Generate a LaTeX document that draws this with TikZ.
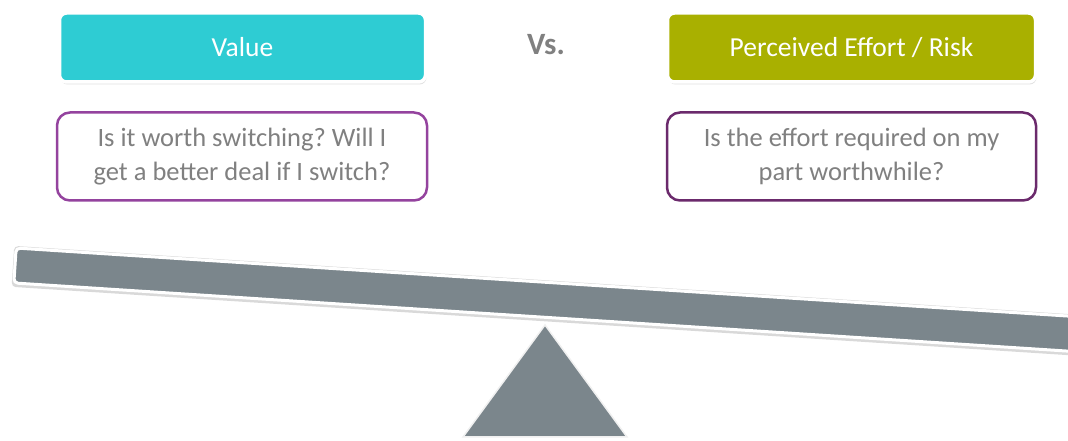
\documentclass[tikz,border=0pt]{standalone}
\usepackage{fontspec}
\setmainfont{Carlito}
\frenchspacing
\usetikzlibrary{shadows}
\definecolor{valcyan}{HTML}{2ECCD3}
\definecolor{riskolive}{HTML}{A9B000}
\definecolor{purpA}{HTML}{94439E}
\definecolor{purpB}{HTML}{6B2A6C}
\definecolor{txtgray}{HTML}{808080}
\definecolor{beamgray}{HTML}{7B868C}
\tikzset{
  headbox/.style={draw=white, line width=3.5pt, rounded corners=7pt, text=white,
    minimum height=69pt, font=\fontsize{27.5}{30}\selectfont,
    drop shadow={opacity=0.25, shadow xshift=1pt, shadow yshift=-2.5pt}},
  qbox/.style={draw=#1, line width=2.5pt, fill=white, rounded corners=13pt, text=txtgray,
    minimum height=88pt, align=center, font=\fontsize{26.5}{34}\selectfont},
  shape3d/.style={fill=beamgray, draw=white, line width=3pt},
}
\begin{document}
\begin{tikzpicture}[x=1pt,y=1pt]
\useasboundingbox (0,0) rectangle (1068,441);
\clip (0,0) rectangle (1068,441);
% beam shadow
\fill[black!15, rotate around={-3.7:(15,175.5)}, rounded corners=4pt]
  (13,154) rectangle (1130,195);
% beam
\draw[shape3d, rounded corners=4pt, rotate around={-3.7:(15,175.5)}]
  (15,158) rectangle (1130,193);
% fulcrum
\coordinate (apex) at (545,116);
\coordinate (bl) at (463,4);
\coordinate (br) at (627,4);
\draw[fill=beamgray, draw=black!6, line width=1.5pt, line join=miter] (apex) -- (bl) -- (br) -- cycle;
% header boxes
\node[headbox, fill=valcyan, minimum width=366pt] (value) at (242.5,393.5) {Value};
\node[headbox, fill=riskolive, minimum width=368pt] (risk) at (851.5,393.5) {Perceived Effort / Risk};
\node[text=txtgray, font=\bfseries\fontsize{31}{34}\selectfont] (vs) at (546,396) {Vs.};
% question boxes
\node[qbox=purpA, minimum width=370pt] (q1) at (242,284.5)
  {Is it worth switching? Will I\\get a better deal if I switch?};
\node[qbox=purpB, minimum width=369pt] (q2) at (851.5,284.5)
  {Is the effort required on my\\part worthwhile?};
\end{tikzpicture}
\end{document}
